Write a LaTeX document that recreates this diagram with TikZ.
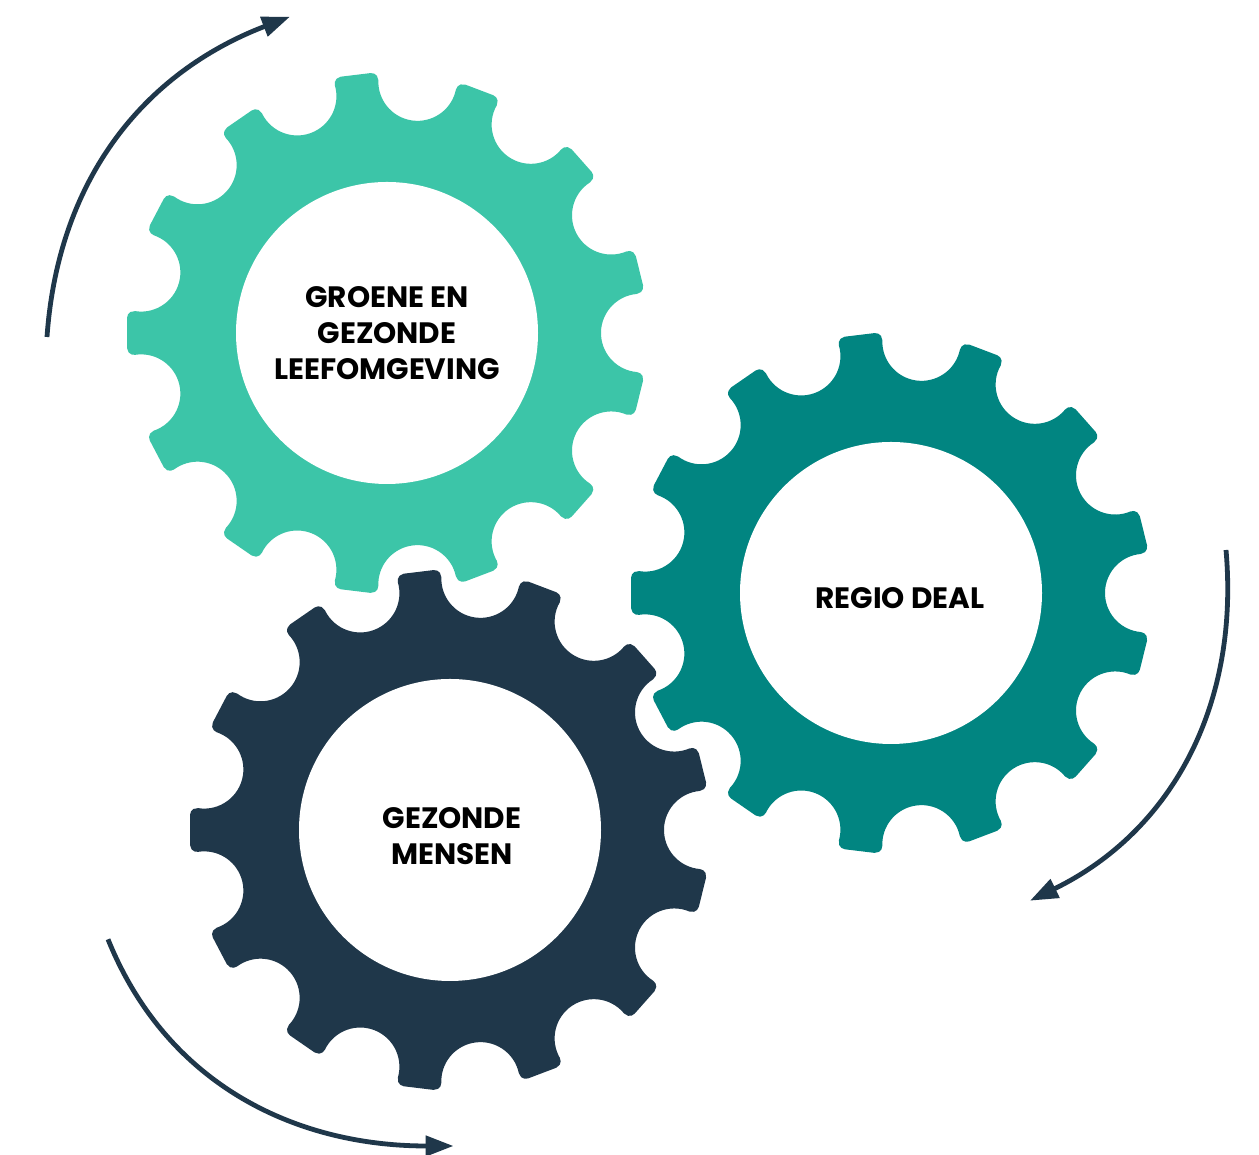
\documentclass[tikz,border=0pt]{standalone}
\usepackage{fontspec}
\setmainfont{Poppins}
\usetikzlibrary{arrows.meta}

\definecolor{groen}{HTML}{3CC5A8}
\definecolor{petrol}{HTML}{018581}
\definecolor{navy}{HTML}{1F374A}

\begin{document}
\begin{tikzpicture}[
    x=1pt, y=1pt,
    >={Triangle[length=28pt, width=20pt]}, % Arrow tips of the turning arrows
    % Styles
    gear/.pic={ % 13 teeth, one pointing to 180 degrees
        \fill[#1] (183.293:260.43)
            \foreach \k [evaluate=\k as \r using 90-\k*360/13,
                         evaluate=\k as \s using 90-(\k+1)*360/13] in {0,...,12} {
                -- (86.707+\r:260.43)
                arc[start angle=90+\r, end angle=-8.916+\r, radius=7]
                arc[start angle=171.084+\r, end angle=341.23+\r, radius=39.2]
                arc[start angle=188.916+\s, end angle=90+\s, radius=7]
            } -- cycle;
    },
    hole/.style={
        fill=white
    },
    gearlabel/.style={
        font=\bfseries\fontsize{29.5}{36}\selectfont,
        align=center,
        text=black
    },
    turn/.style={
        ->,
        draw=navy,
        line width=4.8pt
    }
]

    \fill[white] (0,0) rectangle (1259,1155);
    \useasboundingbox (0,0) rectangle (1259,1155);

    % Gear centres
    \coordinate (groengear) at (387,822);
    \coordinate (dealgear) at (891,562);
    \coordinate (mensgear) at (450,325);

    % Gears
    \pic at (groengear) {gear=groen};
    \pic at (dealgear) {gear=petrol};
    \pic at (mensgear) {gear=navy};
    \foreach \g in {groengear, dealgear, mensgear} {
        \fill[hole] (\g) circle[radius=151];
    }

    % Labels
    \node[gearlabel] (groentxt) at (387,821.5) {GROENE EN\\GEZONDE\\LEEFOMGEVING};
    \node[gearlabel] (dealtxt) at (900,556.5) {REGIO DEAL};
    \node[gearlabel] (menstxt) at (452,318.6) {GEZONDE\\MENSEN};

    % Turning arrows
    \coordinate (turnAs) at (47,818);
    \coordinate (turnAe) at (290,1138.3);
    \coordinate (turnBs) at (1226,605);
    \coordinate (turnBe) at (1030,254.3);
    \coordinate (turnCs) at (108,215.7);
    \coordinate (turnCe) at (453.5,9);
    \draw[turn] (turnAs) to[out=86, in=201] (turnAe);
    \draw[turn] (turnBs) to[out=-85, in=26] (turnBe);
    \draw[turn] (turnCs) to[out=-68, in=180] (turnCe);
\end{tikzpicture}
\end{document}
